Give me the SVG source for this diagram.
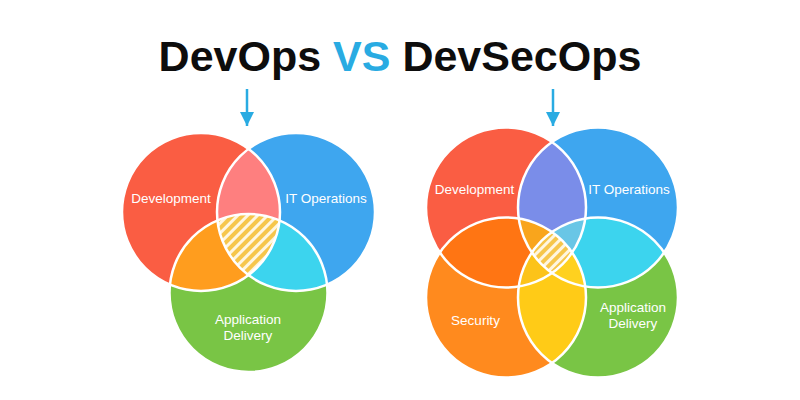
<svg xmlns="http://www.w3.org/2000/svg" width="800" height="400" viewBox="0 0 800 400">
<style>
.lbl{font-family:"Liberation Sans",Arial,sans-serif;font-size:13.5px;fill:#ffffff;text-anchor:middle}
.title{font-family:"Liberation Sans",Arial,sans-serif;font-size:43px;font-weight:bold;fill:#0D0D0D;text-anchor:middle}
.outline{fill:none;stroke:#ffffff;stroke-width:2.5}
.arrow{stroke:#29ABE2;stroke-width:2.5;fill:none}
</style>
<defs>
<pattern id="hatch" patternUnits="userSpaceOnUse" width="7" height="7" patternTransform="rotate(45)">
<rect width="7" height="7" fill="#FFF6E0"/>
<rect width="4" height="7" fill="#F6C64B"/>
</pattern>
<marker id="head" viewBox="0 0 14 14" refX="14" refY="7" markerWidth="14" markerHeight="14" markerUnits="userSpaceOnUse" orient="auto">
<path d="M0,0 L14,7 L0,14 z" fill="#29ABE2"/>
</marker>
<clipPath id="cLr"><circle cx="201" cy="212" r="79"/></clipPath>
<clipPath id="cLb"><circle cx="296" cy="212" r="79"/></clipPath>
<clipPath id="cLg"><circle cx="248.5" cy="293" r="79"/></clipPath>
<clipPath id="cRr"><circle cx="506" cy="207.5" r="80"/></clipPath>
<clipPath id="cRb"><circle cx="598" cy="207.5" r="80"/></clipPath>
<clipPath id="cRo"><circle cx="506" cy="297.5" r="80"/></clipPath>
<clipPath id="cRg"><circle cx="598" cy="297.5" r="80"/></clipPath>
</defs>
<rect width="800" height="400" fill="#ffffff"/>
<text class="title" x="400" y="71">DevOps <tspan fill="#29ABE2">VS</tspan> DevSecOps</text>

<!-- Left Venn: DevOps -->
<g id="devops-development">
<circle cx="201" cy="212" r="79" fill="#FA5D43"/>
<text class="lbl" x="171" y="203">Development</text>
</g>
<g id="devops-it-operations">
<circle cx="296" cy="212" r="79" fill="#3EA6EF"/>
<text class="lbl" x="326" y="203">IT Operations</text>
</g>
<g id="devops-application-delivery">
<circle cx="248.5" cy="293" r="79" fill="#79C545"/>
<text class="lbl" x="248" y="324">Application</text>
<text class="lbl" x="248" y="340">Delivery</text>
</g>
<g id="devops-overlaps">
<circle cx="296" cy="212" r="79" fill="#FE7F7F" clip-path="url(#cLr)"/>
<circle cx="248.5" cy="293" r="79" fill="#FF9D1E" clip-path="url(#cLr)"/>
<circle cx="248.5" cy="293" r="79" fill="#3CD4EE" clip-path="url(#cLb)"/>
<g clip-path="url(#cLr)"><circle cx="248.5" cy="293" r="79" fill="url(#hatch)" clip-path="url(#cLb)"/></g>
</g>
<g id="devops-outlines">
<circle class="outline" cx="201" cy="212" r="79"/>
<circle class="outline" cx="296" cy="212" r="79"/>
<circle class="outline" cx="248.5" cy="293" r="79"/>
</g>

<!-- Right Venn: DevSecOps -->
<g id="devsecops-development">
<circle cx="506" cy="207.5" r="80" fill="#FA5D43"/>
<text class="lbl" x="474.5" y="194">Development</text>
</g>
<g id="devsecops-it-operations">
<circle cx="598" cy="207.5" r="80" fill="#3EA6EF"/>
<text class="lbl" x="629" y="194">IT Operations</text>
</g>
<g id="devsecops-security">
<circle cx="506" cy="297.5" r="80" fill="#FF8A1E"/>
<text class="lbl" x="475.5" y="325">Security</text>
</g>
<g id="devsecops-application-delivery">
<circle cx="598" cy="297.5" r="80" fill="#79C545"/>
<text class="lbl" x="633" y="312">Application</text>
<text class="lbl" x="633" y="328">Delivery</text>
</g>
<g id="devsecops-overlaps">
<circle cx="598" cy="297.5" r="80" fill="#FCC319" clip-path="url(#cRr)"/>
<circle cx="506" cy="297.5" r="80" fill="#F9A51C" clip-path="url(#cRb)"/>
<circle cx="598" cy="207.5" r="80" fill="#7A8DE9" clip-path="url(#cRr)"/>
<circle cx="506" cy="297.5" r="80" fill="#FF7513" clip-path="url(#cRr)"/>
<circle cx="598" cy="297.5" r="80" fill="#3CD4EE" clip-path="url(#cRb)"/>
<circle cx="598" cy="297.5" r="80" fill="#FFCB17" clip-path="url(#cRo)"/>
<g clip-path="url(#cRr)"><circle cx="506" cy="297.5" r="80" fill="#F9A51C" clip-path="url(#cRb)"/></g>
<g clip-path="url(#cRr)"><circle cx="598" cy="297.5" r="80" fill="#69C6E6" clip-path="url(#cRb)"/></g>
<g clip-path="url(#cRr)"><circle cx="598" cy="297.5" r="80" fill="#FCC319" clip-path="url(#cRo)"/></g>
<g clip-path="url(#cRb)"><circle cx="598" cy="297.5" r="80" fill="#FFD11F" clip-path="url(#cRo)"/></g>
<g clip-path="url(#cRr)"><g clip-path="url(#cRb)"><circle cx="598" cy="297.5" r="80" fill="url(#hatch)" clip-path="url(#cRo)"/></g></g>
</g>
<g id="devsecops-outlines">
<circle class="outline" cx="506" cy="207.5" r="80"/>
<circle class="outline" cx="598" cy="207.5" r="80"/>
<circle class="outline" cx="506" cy="297.5" r="80"/>
<circle class="outline" cx="598" cy="297.5" r="80"/>
</g>

<g id="connectors">
<line class="arrow" x1="247" y1="89" x2="247" y2="126" marker-end="url(#head)"/>
<line class="arrow" x1="553" y1="89" x2="553" y2="126" marker-end="url(#head)"/>
</g>
</svg>
